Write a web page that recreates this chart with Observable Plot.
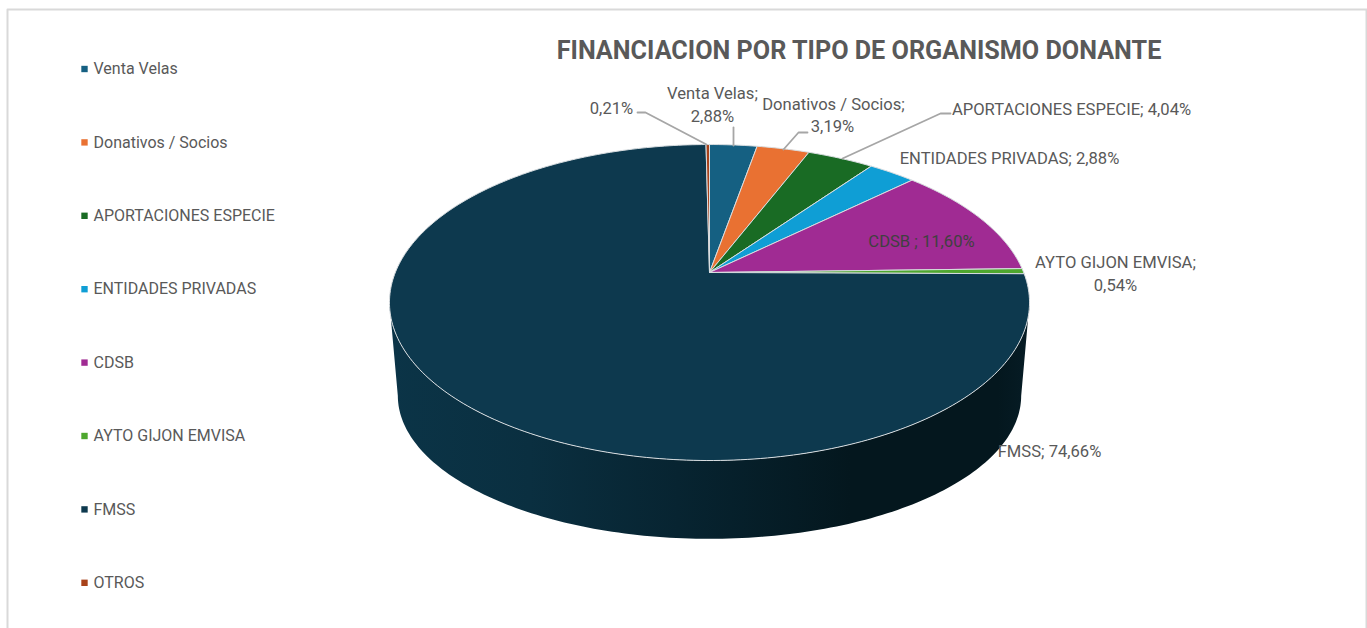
<!DOCTYPE html>
<html>
<head>
<meta charset="utf-8">
<script src="https://cdn.jsdelivr.net/npm/d3@7"></script>
<script src="https://cdn.jsdelivr.net/npm/@observablehq/plot@0.6"></script>
<style>
html,body{margin:0;padding:0;background:#fff;overflow:hidden}
svg{display:block}
</style>
</head>
<body>
<div id="chart"></div>
<script>
const categories = ["Venta Velas","Donativos / Socios","APORTACIONES ESPECIE","ENTIDADES PRIVADAS","CDSB","AYTO GIJON EMVISA","FMSS","OTROS"];
const shares = [2.88,3.19,4.04,2.88,11.60,0.54,74.66,0.21];
const palette = ["#156082","#E97132","#196B24","#0F9ED5","#A02B93","#4EA72E","#0D394E","#A8421A"];
const chartTitle = "FINANCIACION POR TIPO DE ORGANISMO DONANTE";

// Layout (not data)
const W = 1367, H = 628;
const FONT = "Roboto, 'Liberation Sans', sans-serif";
const persp = 0.19;
const topDisk = {x:709, y:272, k:314.2, b:152.3};
const lowDisk = {x:709, y:368, k:306, b:138};
function project(d, deg){
  const t = deg*Math.PI/180, u = Math.sin(t), v = -Math.cos(t), w = 1 - persp*v;
  return {px: d.x + d.k*u/w, py: d.y + d.b*v/w};
}
const legendY = categories.map((_, i) => 68.5 + i*73.4);
const legendData = categories.map((name,i)=>({name, y: legendY[i]}));

// Slice polygons built from the shares
const slices = [];
let cum = 0;
shares.forEach((s,i)=>{
  const a0 = cum*3.6, a1 = (cum+s)*3.6;
  const pts = [{name:categories[i], px:topDisk.x, py:topDisk.y}];
  const n = Math.max(2, Math.ceil((a1-a0)));
  for (let j=0;j<=n;j++) pts.push({name:categories[i], ...project(topDisk, a0+(a1-a0)*j/n)});
  pts.push({name:categories[i], px:topDisk.x, py:topDisk.y});
  slices.push(...pts);
  cum += s;
});

// Side wall of the largest slice
const tangent = Math.acos(persp)*180/Math.PI;
const start = 180 - tangent, end = 180 + tangent;
const wall = [];
for (let a=start;a<=end;a+=1) wall.push(project(topDisk,a));
for (let a=end;a>=start;a-=1) wall.push(project(lowDisk,a));

const dataLabels = [
  {t:"0,21%",               x:611, y:108},
  {t:"Venta Velas;",        x:712, y:93},
  {t:"2,88%",               x:712, y:116},
  {t:"Donativos / Socios;", x:833, y:104},
  {t:"3,19%",               x:832, y:126},
  {t:"APORTACIONES ESPECIE; 4,04%", x:1071, y:109},
  {t:"ENTIDADES PRIVADAS; 2,88%",   x:1009, y:158},
  {t:"CDSB ; 11,60%",       x:921, y:241, dark:true},
  {t:"AYTO GIJON EMVISA;",  x:1115, y:262},
  {t:"0,54%",               x:1115, y:285},
  {t:"FMSS; 74,66%",        x:1049, y:451}
];
const leaders = [
  {k:"a",px:637,py:112},{k:"a",px:645,py:112},{k:"a",px:706,py:144},
  {k:"b",px:733,py:127},{k:"b",px:733,py:145},
  {k:"c",px:807,py:132},{k:"c",px:798,py:132},{k:"c",px:783,py:149},
  {k:"d",px:950,py:113},{k:"d",px:940,py:113},{k:"d",px:842,py:158}
];
const frame = [{k:"f",px:7,py:H},{k:"f",px:7,py:9},{k:"f",px:1366,py:9},{k:"f",px:1366,py:H}];

const defs = () => {
  const ns = "http://www.w3.org/2000/svg";
  const d = document.createElementNS(ns,"defs");
  const g = document.createElementNS(ns,"linearGradient");
  g.setAttribute("id","wallShade");
  g.setAttribute("x1","0");g.setAttribute("x2","1");g.setAttribute("y1","0");g.setAttribute("y2","0");
  [[0,"#0b3447"],[0.22,"#0a2f40"],[0.45,"#072431"],[0.72,"#04171e"],[0.95,"#04171e"],[1,"#061c25"]].forEach(([o,c])=>{
    const s = document.createElementNS(ns,"stop");
    s.setAttribute("offset",o);s.setAttribute("stop-color",c);g.appendChild(s);
  });
  d.appendChild(g);
  return d;
};

const chart = Plot.plot({
  width:W, height:H, margin:0,
  style:{background:"#fff", fontFamily:FONT},
  x:{domain:[0,W], range:[0,W], axis:null},
  y:{domain:[0,H], range:[0,H], axis:null},
  color:{domain:categories, range:palette},
  marks:[
    defs,
    Plot.line(frame,{x:"px",y:"py",stroke:"#d9d9d9",strokeWidth:2,curve:"linear"}),
    Plot.line(wall,{x:"px",y:"py",fill:"url(#wallShade)",stroke:"none",curve:"linear"}),
    Plot.line(slices,{x:"px",y:"py",z:"name",fill:"name",stroke:"#d8dde0",strokeWidth:1,strokeLinejoin:"round",curve:"linear"}),
    Plot.line(leaders,{x:"px",y:"py",z:"k",stroke:"#a6a6a6",strokeWidth:1.8,curve:"linear"}),
    Plot.dot(legendData,{x:()=>84,y:"y",symbol:"square",r:3.6,fill:"name",stroke:"none"}),
    Plot.text(legendData,{x:()=>93,y:"y",text:"name",textAnchor:"start",fontSize:16,fill:"#595959",fontFamily:FONT}),
    Plot.text(dataLabels,{x:"x",y:"y",text:"t",textAnchor:"middle",fontSize:16.6,fill:d=>d.dark?"#404040":"#595959",fontFamily:FONT}),
    Plot.text([chartTitle],{x:()=>858.5,y:()=>50,text:d=>d,textAnchor:"middle",fontSize:25.2,fontWeight:700,fill:"#595959",fontFamily:FONT})
  ]
});
document.getElementById("chart").appendChild(chart);
</script>
</body>
</html>
